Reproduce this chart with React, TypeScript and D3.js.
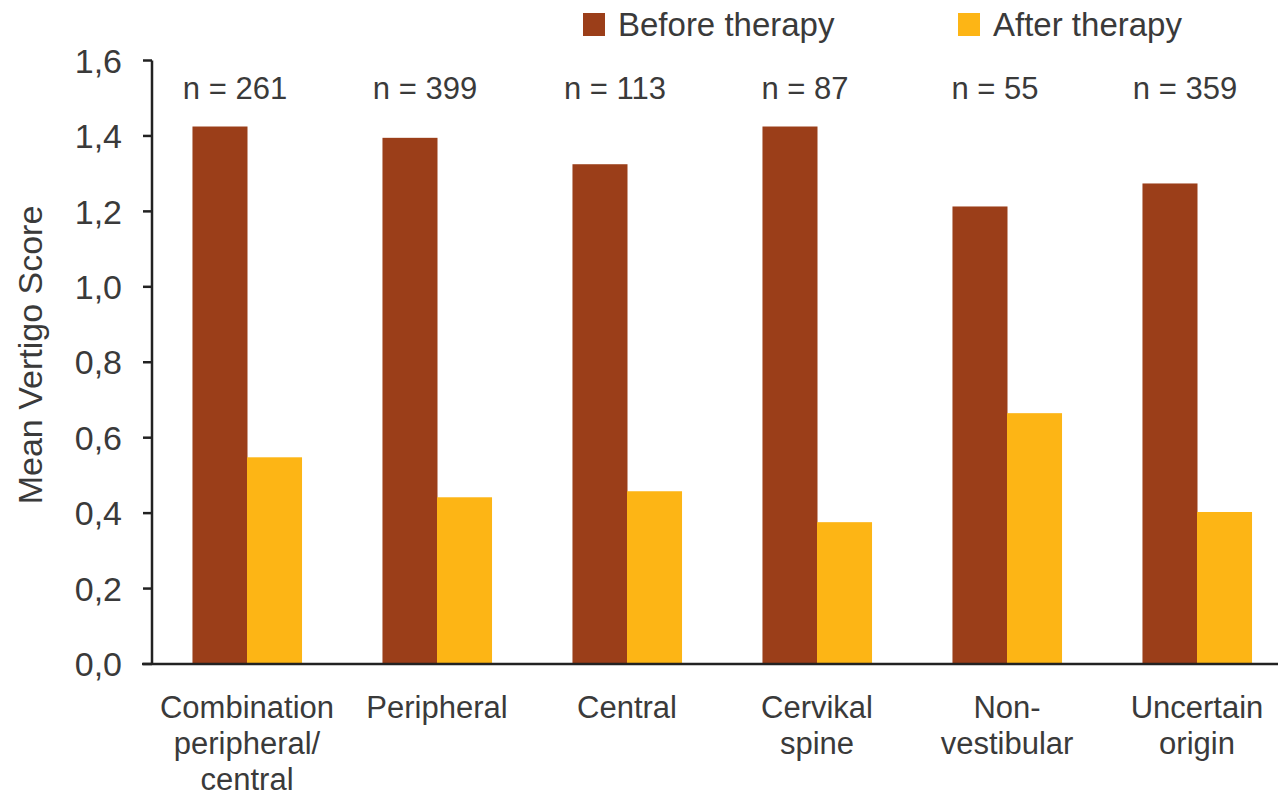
import React from "react";
import * as d3 from "d3";

const categories: string[][] = [
  ["Combination", "peripheral/", "central"],
  ["Peripheral"],
  ["Central"],
  ["Cervikal", "spine"],
  ["Non-", "vestibular"],
  ["Uncertain", "origin"],
];
const nLabels = ["n = 261", "n = 399", "n = 113", "n = 87", "n = 55", "n = 359"];
const before = [1.425, 1.395, 1.325, 1.425, 1.213, 1.274];
const after = [0.548, 0.442, 0.458, 0.376, 0.665, 0.403];
const series = ["Before therapy", "After therapy"];
const colors = ["#9B3E19", "#FDB515"];
const yTicks = [0, 0.2, 0.4, 0.6, 0.8, 1.0, 1.2, 1.4, 1.6];

const W = 1278;
const H = 798;
const FONT = "'Liberation Sans', Arial, Helvetica, sans-serif";
const TXT = "#3a3a3a";

export default function App() {
  const x0 = 152;
  const y = d3.scaleLinear().domain([0, 1.6]).range([664, 60.5]);
  const x = d3
    .scaleBand<number>()
    .domain(d3.range(categories.length))
    .range([x0, x0 + 190 * 6])
    .paddingInner(0.426)
    .paddingOuter(0.213);
  const xs = d3.scaleBand<number>().domain([0, 1]).range([0, x.bandwidth()]);
  const fmt = (v: number) => d3.format(".1f")(v).replace(".", ",");

  return (
    <svg width={W} height={H} style={{ position: "absolute", left: 0, top: 0 }} fontFamily={FONT}>
      <rect width={W} height={H} fill="#fff" />
      {/* bars */}
      {categories.map((_, i) => (
        <g key={i} transform={`translate(${x(i)},0)`}>
          {[before[i], after[i]].map((v, j) => (
            <rect
              key={j}
              x={xs(j)!}
              y={y(v)}
              width={xs.bandwidth() + 0.5}
              height={y(0) - y(v)}
              fill={colors[j]}
            />
          ))}
        </g>
      ))}
      {/* n labels */}
      {nLabels.map((t, i) => (
        <text
          key={i}
          x={x(i)! + x.bandwidth() / 2 - 12}
          y={99}
          textAnchor="middle"
          fontSize={31}
          fill={TXT}
        >
          {t}
        </text>
      ))}
      {/* y axis */}
      <line x1={x0} x2={x0} y1={y(1.6)} y2={y(0)} stroke="#222" strokeWidth={2.5} />
      <line x1={x0 - 10} x2={W} y1={y(0)} y2={y(0)} stroke="#222" strokeWidth={2.5} />
      {yTicks.map((t) => (
        <g key={t}>
          <line x1={x0 - 9} x2={x0} y1={y(t)} y2={y(t)} stroke="#222" strokeWidth={2.5} />
          <text
            x={x0 - 30}
            y={y(t)}
            dy="0.36em"
            textAnchor="end"
            fontSize={34}
            fill={TXT}
          >
            {fmt(t)}
          </text>
        </g>
      ))}
      <text
        transform={`translate(42,${355}) rotate(-90)`}
        textAnchor="middle"
        fontSize={34}
        fill={TXT}
      >
        Mean Vertigo Score
      </text>
      {/* category labels */}
      {categories.map((lines, i) => (
        <text
          key={i}
          x={x(i)! + x.bandwidth() / 2}
          textAnchor="middle"
          fontSize={31}
          fill={TXT}
        >
          {lines.map((l, k) => (
            <tspan key={k} x={x(i)! + x.bandwidth() / 2} y={718 + k * 36}>
              {l}
            </tspan>
          ))}
        </text>
      ))}
      {/* legend */}
      {series.map((s, j) => {
        const lx = [583, 958][j];
        return (
          <g key={s}>
            <rect x={lx} y={13} width={22} height={23} fill={colors[j]} />
            <text x={lx + 35} y={36} fontSize={33} fill={TXT}>
              {s}
            </text>
          </g>
        );
      })}
    </svg>
  );
}
